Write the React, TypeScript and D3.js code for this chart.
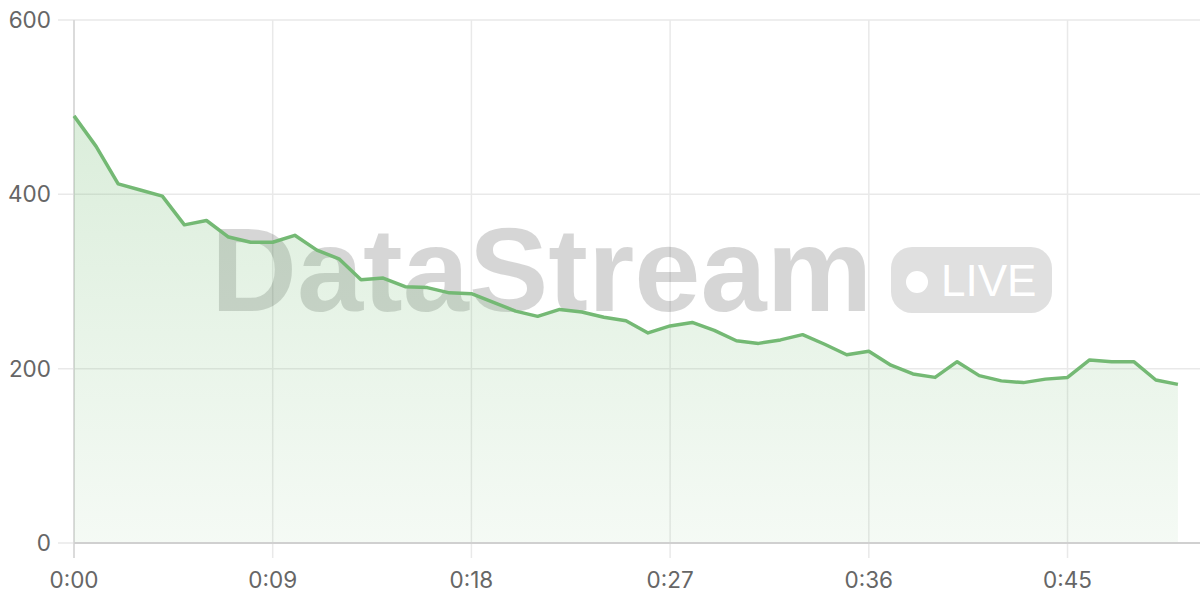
import React from "react";
import * as d3 from "d3";

const seconds = d3.range(0, 51);
const values = [
  490, 455, 412, 405, 398, 365, 370, 351, 345, 345,
  353, 336, 326, 302, 304, 294, 293, 287, 286, 276,
  266, 260, 268, 265, 259, 255, 241, 249, 253, 244,
  232, 229, 233, 239, 228, 216, 220, 204, 194, 190,
  208, 192, 186, 184, 188, 190, 210, 208, 208, 187, 182,
];
const yTicks = [0, 200, 400, 600];
const xTicks = [0, 9, 18, 27, 36, 45];
const watermark = "DataStream";
const liveLabel = "LIVE";

const W = 1200;
const H = 600;
const left = 74;
const right = 1200;
const top = 20;
const bottom = 543;

const fmt = (s: number) => `${Math.floor(s / 60)}:${String(s % 60).padStart(2, "0")}`;

export default function App() {
  const x = d3.scaleLinear().domain([0, 51]).range([left, right]);
  const y = d3.scaleLinear().domain([0, 600]).range([bottom, top]);
  const pts = seconds.map((s, i) => [s, values[i]] as [number, number]);
  const line = d3.line<[number, number]>().x((d) => x(d[0])).y((d) => y(d[1]))(pts) || "";
  const area =
    d3
      .area<[number, number]>()
      .x((d) => x(d[0]))
      .y0(y(0))
      .y1((d) => y(d[1]))(pts) || "";
  const font = "Inter, 'DejaVu Sans', sans-serif";
  const wmFont = "'Liberation Sans', Arial, sans-serif";
  return (
    <svg
      width={W}
      height={H}
      style={{ position: "absolute", left: 0, top: 0, display: "block", background: "#fff" }}
    >
      <defs>
        <linearGradient id="ag" x1="0" y1={y(500)} x2="0" y2={y(0)} gradientUnits="userSpaceOnUse">
          <stop offset="0" stopColor="#6cb86c" stopOpacity={0.25} />
          <stop offset="1" stopColor="#6cb86c" stopOpacity={0.07} />
        </linearGradient>
      </defs>
      {yTicks.map((t) => (
        <g key={"y" + t}>
          <line x1={58} x2={right} y1={y(t)} y2={y(t)} stroke="#e9e9e9" strokeWidth={1.5} />
          <text
            x={51}
            y={y(t)}
            dy="0.36em"
            textAnchor="end"
            fontFamily={font}
            fontSize={22.5}
            fill="#666"
          >
            {t}
          </text>
        </g>
      ))}
      {xTicks.map((t) => (
        <g key={"x" + t}>
          <line x1={x(t)} x2={x(t)} y1={top} y2={558} stroke="#e9e9e9" strokeWidth={1.5} />
          <text x={x(t)} y={588} textAnchor="middle" fontFamily={font} fontSize={22.5} fill="#666">
            {fmt(t)}
          </text>
        </g>
      ))}
      <line x1={left} x2={left} y1={top} y2={558} stroke="#d4d4d4" strokeWidth={1.5} />
      <g>
        <text
          x={211}
          y={311}
          textAnchor="start"
          fontFamily={wmFont}
          fontWeight={700}
          fontSize={119}
          fill="#000"
          fillOpacity={0.16}
        >
          {watermark}
        </text>
        <rect x={891} y={247} width={161} height={66} rx={21} fill="#000" fillOpacity={0.12} />
        <circle cx={917} cy={282} r={11} fill="#fff" />
        <text
          x={941}
          y={296}
          textAnchor="start"
          fontFamily={wmFont}
          fontWeight={500}
          fontSize={44}
          fill="#fff"
        >
          {liveLabel}
        </text>
      </g>
      <path d={area} fill="url(#ag)" />
      <path d={line} fill="none" stroke="#74b974" strokeWidth={3.5} strokeLinejoin="round" />
      <line x1={left} x2={right} y1={bottom} y2={bottom} stroke="#d0d0d0" strokeWidth={2} />
    </svg>
  );
}
